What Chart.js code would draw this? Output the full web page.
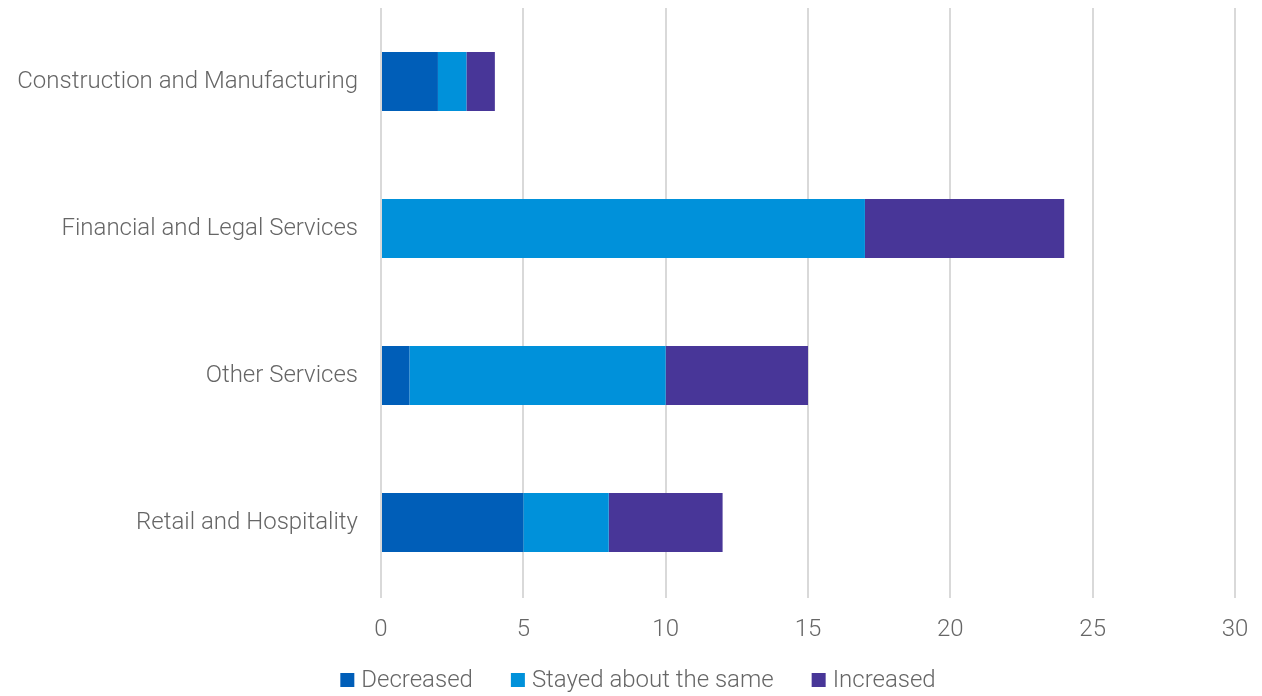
<!DOCTYPE html>
<html>
<head>
<meta charset="utf-8">
<script src="https://cdn.jsdelivr.net/npm/chart.js@4"></script>
<style>
  html, body { margin: 0; padding: 0; background: #fff; }
  #wrap { width: 1262px; height: 696px; }
</style>
</head>
<body>
<div id="wrap"><canvas id="sectorChart"></canvas></div>
<script>
// sectors, top to bottom
var sectors = ["Construction and Manufacturing", "Financial and Legal Services", "Other Services", "Retail and Hospitality"];
var decreased = [2, 0, 1, 5];
var stayedSame = [1, 17, 9, 3];
var increased = [1, 7, 5, 4];
var seriesNames = ["Decreased", "Stayed about the same", "Increased"];
var seriesColors = ["#005EB8", "#0091DA", "#483698"];

var FONT = "Roboto, 'Liberation Sans', sans-serif";
Chart.defaults.font.family = FONT;
Chart.defaults.font.weight = 300;
Chart.defaults.color = "#666666";

// legend row along the bottom edge, drawn by hand so it can sit tight to the edge
var bottomLegend = {
  id: "bottomLegend",
  afterDraw: function (chart) {
    var ctx = chart.ctx;
    var box = 14, gap = 7, spacing = 38, y = 680;
    ctx.save();
    ctx.font = "300 24px " + FONT;
    ctx.textBaseline = "middle";
    var items = chart.data.datasets.map(function (ds) {
      return { text: ds.label, color: ds.backgroundColor, w: box + gap + ctx.measureText(ds.label).width };
    });
    var total = items.reduce(function (s, it) { return s + it.w; }, 0) + spacing * (items.length - 1);
    var x = chart.width / 2 + 7 - total / 2;
    items.forEach(function (it) {
      ctx.fillStyle = it.color;
      ctx.fillRect(x, y - box / 2, box, box);
      ctx.fillStyle = "#666666";
      ctx.fillText(it.text, x + box + gap, y + 1);
      x += it.w + spacing;
    });
    ctx.restore();
  }
};

new Chart("sectorChart", {
  type: "bar",
  data: {
    labels: sectors,
    datasets: [
      { label: seriesNames[0], data: decreased, backgroundColor: seriesColors[0] },
      { label: seriesNames[1], data: stayedSame, backgroundColor: seriesColors[1] },
      { label: seriesNames[2], data: increased, backgroundColor: seriesColors[2] }
    ]
  },
  plugins: [bottomLegend],
  options: {
    indexAxis: "y",
    responsive: true,
    maintainAspectRatio: false,
    animation: false,
    categoryPercentage: 0.4,
    barPercentage: 1,
    layout: { padding: { top: 8, right: 27, left: 0, bottom: 50 } },
    plugins: {
      tooltip: { enabled: false },
      legend: { display: false }
    },
    scales: {
      x: {
        stacked: true,
        min: 0,
        max: 30,
        ticks: { stepSize: 5, font: { size: 24 }, padding: 18, color: "#666666" },
        grid: { color: "#d9d9d9", lineWidth: 2, tickLength: 2 },
        border: { display: false },
        afterFit: function (scale) {
          scale.height = 50;
          scale.paddingLeft = 0;
          scale.paddingRight = 0;
        }
      },
      y: {
        stacked: true,
        ticks: { font: { size: 24 }, padding: 15, color: "#666666" },
        grid: { display: false },
        border: { display: false },
        afterFit: function (scale) {
          scale.width = 381;
          scale.paddingTop = 0;
          scale.paddingBottom = 0;
        }
      }
    }
  }
});
</script>
</body>
</html>
